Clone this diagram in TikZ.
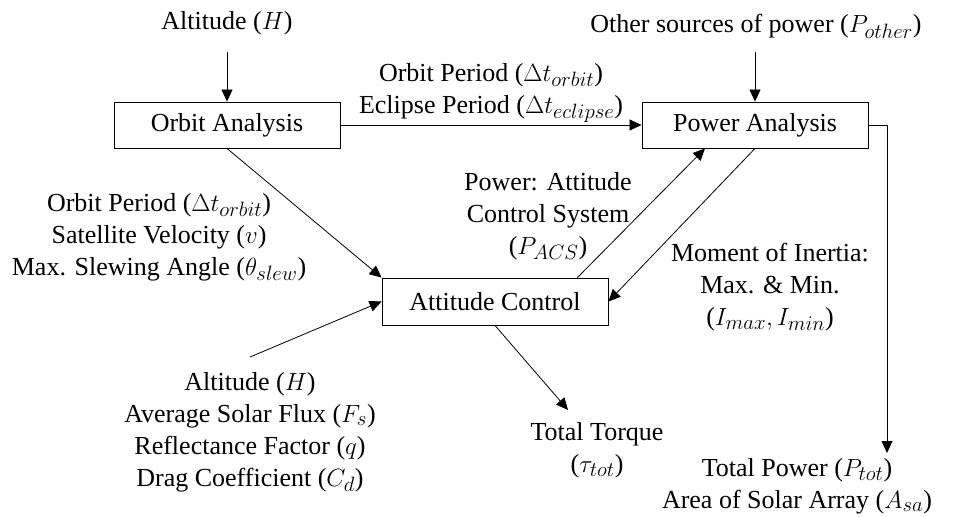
\documentclass[tikz,border=0pt]{standalone}
\usepackage{fontspec}
\setmainfont{Liberation Serif}
\DeclareMathSizes{26}{26}{20}{15}
\usetikzlibrary{arrows.meta,calc}
\begin{document}
\begin{tikzpicture}[x=1pt,y=-1pt,
  every node/.style={font=\rmfamily\fontsize{26}{32}\selectfont, align=center, inner sep=0pt},
  blockbox/.style={draw, line width=0.9pt, minimum width=226pt, minimum height=46pt},
  arr/.style={-{Triangle[length=12pt,width=11pt]}, line width=0.8pt}]
\useasboundingbox (0,0) rectangle (957,516);
\node[blockbox] (orbit) at (227,125) {Orbit Analysis};
\node[blockbox] (power) at (755,125) {Power Analysis};
\node[blockbox, minimum height=47pt] (att) at (495,301.5) {Attitude Control};

\node (altH) at (227,23) {Altitude ($H$)};
\node (other) at (756,26) {Other sources of power ($P_{other}$)};
\node (oe) at (491,93) {Orbit Period ($\Delta t_{orbit}$)\\Eclipse Period ($\Delta t_{eclipse}$)};
\node (leftlab) at (159,237) {Orbit Period ($\Delta t_{orbit}$)\\Satellite Velocity ($v$)\\Max. Slewing Angle ($\theta_{slew}$)};
\node (acs) at (548,216) {Power: Attitude\\Control System\\($P_{ACS}$)};
\node (moi) at (770,287) {Moment of Inertia:\\Max. \& Min.\\($I_{max}, I_{min}$)};
\node (inputs) at (250,432) {Altitude ($H$)\\Average Solar Flux ($F_s$)\\Reflectance Factor ($q$)\\Drag Coefficient ($C_d$)};
\node (torque) at (597,450) {Total Torque\\($\tau_{tot}$)};
\node (tp) at (797,486) {Total Power ($P_{tot}$)\\Area of Solar Array ($A_{sa}$)};

\coordinate (a1) at (227,52);
\coordinate (a2) at (755,52);
\coordinate (inp) at (250,357);
\coordinate (tq) at (568,410);
\coordinate (tpc) at (887,453);

\draw[arr] (a1) -- (orbit.north);
\draw[arr] (a2) -- (power.north);
\draw[arr] (orbit.east) -- (power.west);
\draw[arr] (orbit.south) -- (att.north west);
\draw[arr] (power.south) -- (att.east);
\draw[arr] ([xshift=-31pt]att.north east) -- ([xshift=-50pt]power.south);
\draw[arr] (inp) -- (att.west);
\draw[arr] (att.south) -- (tq);
\draw[arr] (power.east) -| (tpc);
\end{tikzpicture}
\end{document}
